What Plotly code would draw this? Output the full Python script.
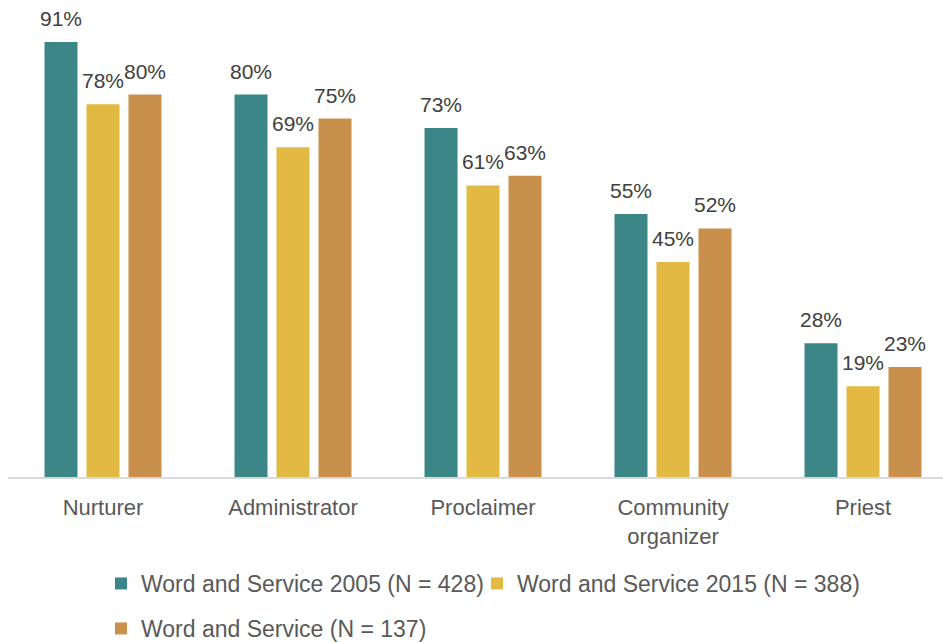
import plotly.graph_objects as go

# Ministry roles and the share of respondents in each survey wave
categories = ["Nurturer", "Administrator", "Proclaimer", "Community<br>organizer", "Priest"]
series_names = [
    "Word and Service 2005 (N = 428)",
    "Word and Service 2015 (N = 388)",
    "Word and Service (N = 137)",
]
values_2005 = [91, 80, 73, 55, 28]
values_2015 = [78, 69, 61, 45, 19]
values_recent = [80, 75, 63, 52, 23]

colors = ["#3D8687", "#E2B942", "#C9904B"]
label_font = "Liberation Sans"

fig = go.Figure()

all_values = [values_2005, values_2015, values_recent]
legends = ["legend", "legend2", "legend3"]
for name, vals, col, lg in zip(series_names, all_values, colors, legends):
    fig.add_trace(go.Bar(
        x=categories, y=vals, name=name,
        marker=dict(color=col, line=dict(width=0)),
        legend=lg,
    ))

# value labels above each bar; bars in a group sit 42 px apart
slot_px = 42
for i, vals in enumerate(all_values):
    for cat, v in zip(categories, vals):
        fig.add_annotation(
            x=cat, y=v, text=f"{v}%", showarrow=False,
            xref="x", yref="y", yanchor="bottom",
            xshift=(i - 1) * slot_px, yshift=10,
            font=dict(family=label_font, size=21, color="#404040"),
        )

legend_style = dict(
    orientation="h", xref="container", yref="container",
    xanchor="left", yanchor="top",
    font=dict(family=label_font, size=23, color="#595959"),
    itemwidth=30, bgcolor="rgba(0,0,0,0)",
)

fig.update_layout(
    width=943, height=642,
    margin=dict(l=8, r=0, t=10, b=165),
    paper_bgcolor="white", plot_bgcolor="white",
    barmode="group", bargap=0.337, bargroupgap=0.214,
    showlegend=True,
    legend=dict(legend_style, x=101 / 943, y=1 - 562 / 642),
    legend2=dict(legend_style, x=477 / 943, y=1 - 562 / 642),
    legend3=dict(legend_style, x=101 / 943, y=1 - 607 / 642),
    xaxis=dict(
        range=[-0.5, 4.421], showgrid=False, zeroline=False,
        showline=True, linecolor="#D9D9D9", linewidth=2,
        ticks="", ticklabelstandoff=10,
        tickfont=dict(family=label_font, size=22, color="#595959"),
    ),
    yaxis=dict(
        range=[0, 97.7], visible=False, showgrid=False, zeroline=False,
    ),
)

fig.write_html("out.html")
